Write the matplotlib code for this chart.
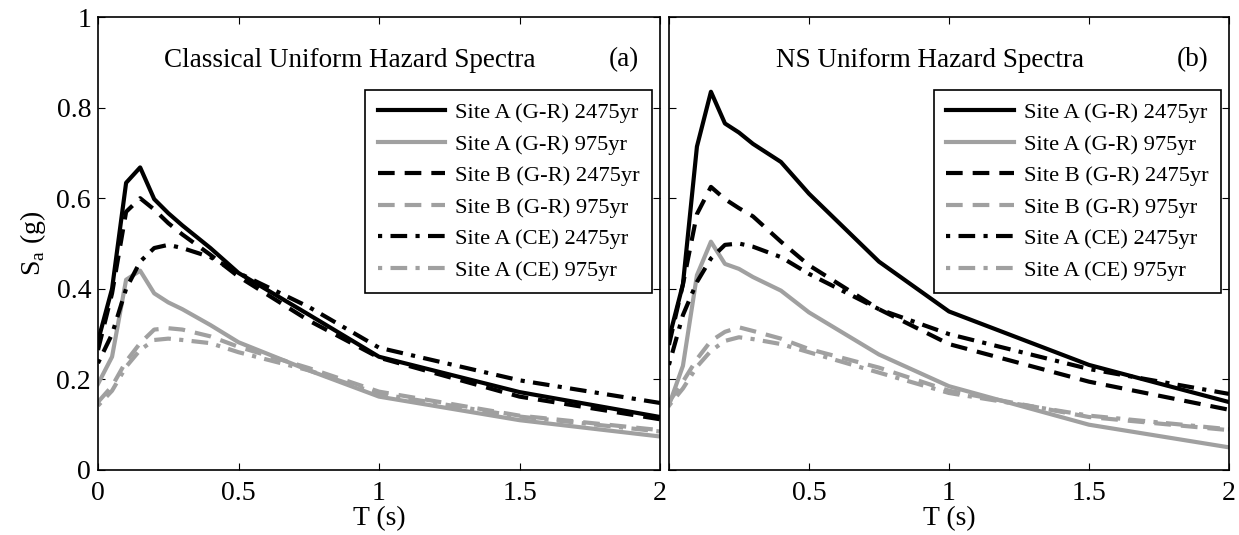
import matplotlib
matplotlib.use('Agg')
import matplotlib.pyplot as plt
from matplotlib.ticker import FormatStrFormatter

# spectral periods (s)
T = [0, 0.05, 0.1, 0.15, 0.2, 0.25, 0.3, 0.4, 0.5, 0.75, 1.0, 1.5, 2.0]

# (a) classical UHS
a_A_GR_2475 = [0.285, 0.40, 0.634, 0.668, 0.598, 0.567, 0.540, 0.490, 0.435, 0.343, 0.250, 0.172, 0.117]
a_A_GR_975 = [0.190, 0.25, 0.420, 0.440, 0.390, 0.370, 0.355, 0.320, 0.282, 0.220, 0.162, 0.110, 0.074]
a_B_GR_2475 = [0.265, 0.39, 0.570, 0.600, 0.575, 0.545, 0.520, 0.475, 0.427, 0.330, 0.248, 0.162, 0.112]
a_B_GR_975 = [0.150, 0.185, 0.240, 0.280, 0.310, 0.313, 0.310, 0.295, 0.272, 0.225, 0.173, 0.120, 0.088]
a_A_CE_2475 = [0.236, 0.30, 0.400, 0.460, 0.490, 0.497, 0.490, 0.470, 0.435, 0.360, 0.270, 0.198, 0.148]
a_A_CE_975 = [0.142, 0.175, 0.228, 0.265, 0.287, 0.290, 0.287, 0.280, 0.260, 0.220, 0.168, 0.118, 0.085]

# (b) NS UHS
b_A_GR_2475 = [0.290, 0.41, 0.714, 0.835, 0.765, 0.745, 0.720, 0.680, 0.610, 0.460, 0.350, 0.232, 0.150]
b_A_GR_975 = [0.143, 0.23, 0.430, 0.504, 0.455, 0.444, 0.426, 0.396, 0.348, 0.255, 0.185, 0.100, 0.050]
b_B_GR_2475 = [0.276, 0.41, 0.565, 0.625, 0.598, 0.578, 0.560, 0.504, 0.452, 0.355, 0.278, 0.195, 0.133]
b_B_GR_975 = [0.150, 0.195, 0.245, 0.285, 0.305, 0.315, 0.307, 0.290, 0.267, 0.226, 0.175, 0.117, 0.088]
b_A_CE_2475 = [0.232, 0.342, 0.415, 0.467, 0.497, 0.500, 0.493, 0.470, 0.433, 0.355, 0.300, 0.223, 0.168]
b_A_CE_975 = [0.142, 0.18, 0.228, 0.263, 0.285, 0.293, 0.289, 0.278, 0.260, 0.215, 0.170, 0.120, 0.090]

labels = ['Site A (G-R) 2475yr', 'Site A (G-R) 975yr', 'Site B (G-R) 2475yr',
          'Site B (G-R) 975yr', 'Site A (CE) 2475yr', 'Site A (CE) 975yr']

x_ticks = [0, 0.5, 1, 1.5, 2]
y_ticks = [0, 0.2, 0.4, 0.6, 0.8, 1]

plt.rcParams['font.family'] = ['Liberation Serif', 'DejaVu Serif']
plt.rcParams['mathtext.fontset'] = 'custom'
plt.rcParams['mathtext.rm'] = 'Liberation Serif'

gray = '#a0a0a0'
styles = [('k', '-'), (gray, '-'), ('k', (0, (4, 2.4))), (gray, (0, (4, 2.4))),
          ('k', (0, (1, 2, 4, 2))), (gray, (0, (1, 2, 4, 2)))]

fig = plt.figure(figsize=(12.39, 5.35), dpi=100)
ax1 = fig.add_axes([0.0791, 0.1215, 0.4536, 0.8467])
ax2 = fig.add_axes([0.5399, 0.1215, 0.4520, 0.8467])

panels = [
    (ax1, [a_A_GR_2475, a_A_GR_975, a_B_GR_2475, a_B_GR_975, a_A_CE_2475, a_A_CE_975],
     'Classical Uniform Hazard Spectra', 0.448, '(a)'),
    (ax2, [b_A_GR_2475, b_A_GR_975, b_B_GR_2475, b_B_GR_975, b_A_CE_2475, b_A_CE_975],
     'NS Uniform Hazard Spectra', 0.467, '(b)'),
]

for ax, series, title, tx, tag in panels:
    for (c, ls), y, lab in zip(styles, series, labels):
        ax.plot(T, y, color=c, linestyle=ls, linewidth=3, label=lab)
    ax.set_xlim(0, 2)
    ax.set_ylim(0, 1)
    ax.set_xticks(x_ticks)
    ax.set_yticks(y_ticks)
    ax.xaxis.set_major_formatter(FormatStrFormatter('%g'))
    ax.yaxis.set_major_formatter(FormatStrFormatter('%g'))
    ax.tick_params(direction='in', top=True, right=True, length=5, width=0.8,
                   labelsize=20, pad=5)
    ax.tick_params(axis='x', pad=8)
    for sp in ax.spines.values():
        sp.set_linewidth(1.2)
    ax.set_xlabel('T (s)', fontsize=20, labelpad=0)
    ax.text(tx, 0.905, title, transform=ax.transAxes, ha='center', va='center', fontsize=19.5)
    ax.text(0.936, 0.905, tag, transform=ax.transAxes, ha='center', va='center', fontsize=19.5)
    leg = ax.legend(loc='upper right', bbox_to_anchor=(0.986, 0.839), borderaxespad=0,
                    fontsize=16.2, handlelength=3.0, handletextpad=0.45, labelspacing=0.48,
                    fancybox=False, framealpha=1, edgecolor='k', borderpad=0.55)
    leg.get_frame().set_linewidth(1.2)

ax2.set_yticklabels([])
ax2.set_xticklabels([''] + ['%g' % v for v in x_ticks[1:]])
ax1.set_ylabel('S$_\\mathregular{a}$ (g)', fontsize=20, labelpad=6)

fig.savefig('out.png', dpi=100)
